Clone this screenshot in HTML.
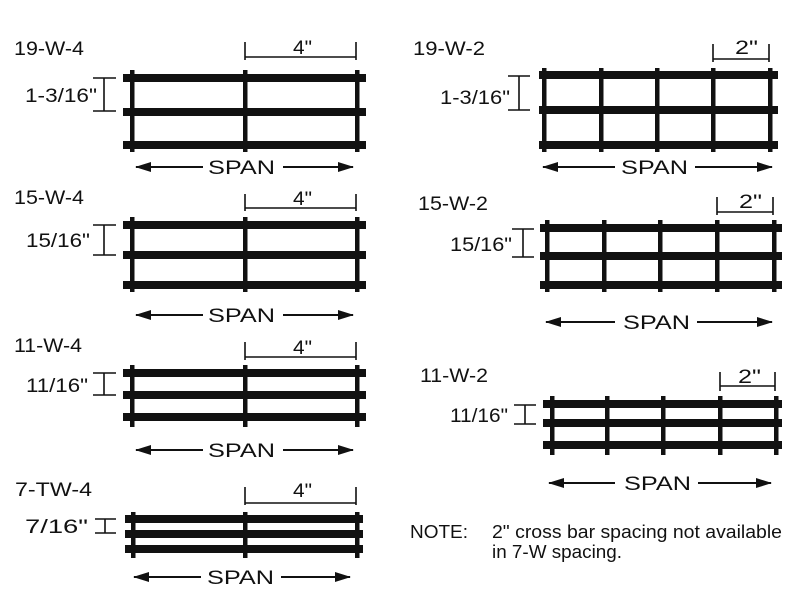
<!DOCTYPE html>
<html><head><meta charset="utf-8"><style>body{margin:0;background:#fff}svg{display:block}text{font-family:"Liberation Sans",Arial,sans-serif;fill:#111}</style></head><body>
<svg width="800" height="600" viewBox="0 0 800 600" xmlns="http://www.w3.org/2000/svg">
<defs><marker id="h" viewBox="0 0 16 10" refX="15" refY="5" markerWidth="16" markerHeight="10" orient="auto-start-reverse" markerUnits="userSpaceOnUse"><path d="M0,0L16,5L0,10z" fill="#111"/></marker></defs>
<g font-size="19">
<!-- Left 1 -->
<text x="14" y="55" textLength="70" lengthAdjust="spacingAndGlyphs">19-W-4</text>
<g stroke="#111" stroke-width="1.6" fill="none"><path d="M245,42V60M356,42V60M245,57H356"/><path d="M104,78V111M93,78H116M93,111H116"/></g>
<text x="293" y="54" textLength="19" lengthAdjust="spacingAndGlyphs">4"</text>
<text x="25" y="102" textLength="72" lengthAdjust="spacingAndGlyphs">1-3/16"</text>
<g fill="#111"><rect x="123" y="74" width="243" height="8"/><rect x="123" y="108" width="243" height="8"/><rect x="123" y="141" width="243" height="8"/>
<rect x="130" y="70" width="4.5" height="82"/><rect x="243" y="70" width="4.5" height="82"/><rect x="355" y="70" width="4.5" height="82"/></g>
<g stroke="#111" stroke-width="2"><path d="M203,167H136" marker-end="url(#h)"/><path d="M283,167H353" marker-end="url(#h)"/></g>
<text x="208" y="174" textLength="67" lengthAdjust="spacingAndGlyphs">SPAN</text>
<!-- Left 2 -->
<text x="14" y="204" textLength="70" lengthAdjust="spacingAndGlyphs">15-W-4</text>
<g stroke="#111" stroke-width="1.6" fill="none"><path d="M245,194V211M356,194V211M245,208H356"/><path d="M104,225V255M93,225H116M93,255H116"/></g>
<text x="293" y="205" textLength="19" lengthAdjust="spacingAndGlyphs">4"</text>
<text x="26" y="247" textLength="64" lengthAdjust="spacingAndGlyphs">15/16"</text>
<g fill="#111"><rect x="123" y="221" width="243" height="8"/><rect x="123" y="251" width="243" height="8"/><rect x="123" y="281" width="243" height="8"/>
<rect x="130" y="217" width="4.5" height="75"/><rect x="243" y="217" width="4.5" height="75"/><rect x="355" y="217" width="4.5" height="75"/></g>
<g stroke="#111" stroke-width="2"><path d="M203,315H136" marker-end="url(#h)"/><path d="M283,315H353" marker-end="url(#h)"/></g>
<text x="208" y="322" textLength="67" lengthAdjust="spacingAndGlyphs">SPAN</text>
<!-- Left 3 -->
<text x="14" y="352" textLength="68" lengthAdjust="spacingAndGlyphs">11-W-4</text>
<g stroke="#111" stroke-width="1.6" fill="none"><path d="M245,342V360M356,342V360M245,357H356"/><path d="M104,373V395M93,373H116M93,395H116"/></g>
<text x="293" y="354" textLength="19" lengthAdjust="spacingAndGlyphs">4"</text>
<text x="26" y="392" textLength="62" lengthAdjust="spacingAndGlyphs">11/16"</text>
<g fill="#111"><rect x="123" y="369" width="243" height="8"/><rect x="123" y="391" width="243" height="8"/><rect x="123" y="413" width="243" height="8"/>
<rect x="130" y="365" width="4.5" height="62"/><rect x="243" y="365" width="4.5" height="62"/><rect x="355" y="365" width="4.5" height="62"/></g>
<g stroke="#111" stroke-width="2"><path d="M203,450H136" marker-end="url(#h)"/><path d="M283,450H353" marker-end="url(#h)"/></g>
<text x="208" y="457" textLength="67" lengthAdjust="spacingAndGlyphs">SPAN</text>
<!-- Left 4 -->
<text x="15" y="496" textLength="77" lengthAdjust="spacingAndGlyphs">7-TW-4</text>
<g stroke="#111" stroke-width="1.6" fill="none"><path d="M245,487V505M356,487V505M245,503H356"/><path d="M105,519V533M95,519H116M95,533H116"/></g>
<text x="293" y="497" textLength="19" lengthAdjust="spacingAndGlyphs">4"</text>
<text x="25" y="533" textLength="63" lengthAdjust="spacingAndGlyphs">7/16"</text>
<g fill="#111"><rect x="125" y="515" width="238" height="8"/><rect x="125" y="530" width="238" height="8"/><rect x="125" y="545" width="238" height="8"/>
<rect x="131" y="512" width="4.5" height="46"/><rect x="243" y="512" width="4.5" height="46"/><rect x="355" y="512" width="4.5" height="46"/></g>
<g stroke="#111" stroke-width="2"><path d="M201,577H134" marker-end="url(#h)"/><path d="M281,577H350" marker-end="url(#h)"/></g>
<text x="207" y="584" textLength="67" lengthAdjust="spacingAndGlyphs">SPAN</text>
<!-- Right 1 -->
<text x="413" y="55" textLength="72" lengthAdjust="spacingAndGlyphs">19-W-2</text>
<g stroke="#111" stroke-width="1.6" fill="none"><path d="M713,44V62M769,44V62M713,59H769"/><path d="M519,76V110M508,76H530M508,110H530"/></g>
<text x="735" y="54" textLength="23" lengthAdjust="spacingAndGlyphs">2"</text>
<text x="440" y="104" textLength="70" lengthAdjust="spacingAndGlyphs">1-3/16"</text>
<g fill="#111"><rect x="539" y="71" width="239" height="8"/><rect x="539" y="106" width="239" height="8"/><rect x="539" y="141" width="239" height="8"/>
<rect x="542" y="68" width="4.5" height="84"/><rect x="599" y="68" width="4.5" height="84"/><rect x="655" y="68" width="4.5" height="84"/><rect x="711" y="68" width="4.5" height="84"/><rect x="768" y="68" width="4.5" height="84"/></g>
<g stroke="#111" stroke-width="2"><path d="M615,167H543" marker-end="url(#h)"/><path d="M695,167H772" marker-end="url(#h)"/></g>
<text x="621" y="174" textLength="67" lengthAdjust="spacingAndGlyphs">SPAN</text>
<!-- Right 2 -->
<text x="418" y="210" textLength="70" lengthAdjust="spacingAndGlyphs">15-W-2</text>
<g stroke="#111" stroke-width="1.6" fill="none"><path d="M717,197V215M773,197V215M717,212H773"/><path d="M523,229V257M512,229H534M512,257H534"/></g>
<text x="739" y="208" textLength="23" lengthAdjust="spacingAndGlyphs">2"</text>
<text x="450" y="251" textLength="62" lengthAdjust="spacingAndGlyphs">15/16"</text>
<g fill="#111"><rect x="540" y="224" width="242" height="8"/><rect x="540" y="252" width="242" height="8"/><rect x="540" y="281" width="242" height="8"/>
<rect x="545" y="220" width="4.5" height="72"/><rect x="602" y="220" width="4.5" height="72"/><rect x="658" y="220" width="4.5" height="72"/><rect x="715" y="220" width="4.5" height="72"/><rect x="772" y="220" width="4.5" height="72"/></g>
<g stroke="#111" stroke-width="2"><path d="M615,322H546" marker-end="url(#h)"/><path d="M697,322H772" marker-end="url(#h)"/></g>
<text x="623" y="329" textLength="67" lengthAdjust="spacingAndGlyphs">SPAN</text>
<!-- Right 3 -->
<text x="420" y="382" textLength="68" lengthAdjust="spacingAndGlyphs">11-W-2</text>
<g stroke="#111" stroke-width="1.6" fill="none"><path d="M720,372V391M775,372V391M720,386H775"/><path d="M525,405V424M514,405H536M514,424H536"/></g>
<text x="738" y="383" textLength="23" lengthAdjust="spacingAndGlyphs">2"</text>
<text x="450" y="422" textLength="58" lengthAdjust="spacingAndGlyphs">11/16"</text>
<g fill="#111"><rect x="543" y="400" width="239" height="8"/><rect x="543" y="419" width="239" height="8"/><rect x="543" y="441" width="239" height="8"/>
<rect x="550" y="396" width="4.5" height="59"/><rect x="605" y="396" width="4.5" height="59"/><rect x="661" y="396" width="4.5" height="59"/><rect x="718" y="396" width="4.5" height="59"/><rect x="774" y="396" width="4.5" height="59"/></g>
<g stroke="#111" stroke-width="2"><path d="M615,483H549" marker-end="url(#h)"/><path d="M698,483H771" marker-end="url(#h)"/></g>
<text x="624" y="490" textLength="67" lengthAdjust="spacingAndGlyphs">SPAN</text>
<text x="410" y="538" font-size="18" textLength="58" lengthAdjust="spacingAndGlyphs">NOTE:</text>
<text x="492" y="538" font-size="18" textLength="290" lengthAdjust="spacingAndGlyphs">2" cross bar spacing not available</text>
<text x="492" y="558" font-size="18" textLength="130" lengthAdjust="spacingAndGlyphs">in 7-W spacing.</text>
</g>
</svg>
</body></html>
